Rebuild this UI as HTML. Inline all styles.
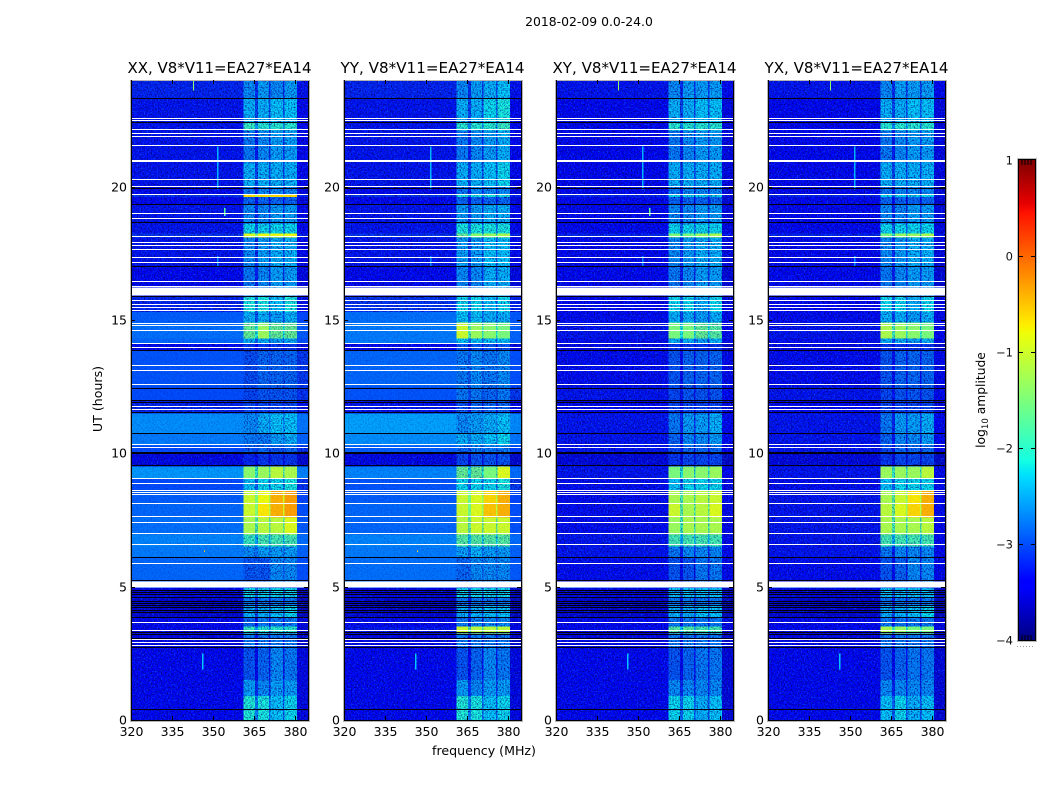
<!DOCTYPE html>
<html>
<head>
<meta charset="utf-8">
<title>2018-02-09 dynamic spectra</title>
<style>
html,body{margin:0;padding:0;background:#fff;}
svg{display:block;font-family:"DejaVu Sans","Liberation Sans",sans-serif;}
</style>
</head>
<body>
<svg id="chart" xmlns="http://www.w3.org/2000/svg" width="1050" height="800" viewBox="0 0 1050 800">
  <defs>
    <filter id="speckle-light" x="0" y="0" width="100%" height="100%" color-interpolation-filters="sRGB">
      <feTurbulence type="fractalNoise" baseFrequency="0.7" numOctaves="1" seed="3"/>
      <feColorMatrix type="matrix" values="0 0 0 0 0  0 0 0 0 0.42  0 0 0 0 1  2.2 0 0 0 -1.05"/>
    </filter>
    <filter id="speckle-dark" x="0" y="0" width="100%" height="100%" color-interpolation-filters="sRGB">
      <feTurbulence type="fractalNoise" baseFrequency="0.7" numOctaves="1" seed="8"/>
      <feColorMatrix type="matrix" values="0 0 0 0 0  0 0 0 0 0  0 0 0 0 0.5  0 2.8 0 0 -1.2"/>
    </filter>
  </defs>
  <text x="589" y="26" font-size="12.4" text-anchor="middle">2018-02-09 0.0-24.0</text>
  <text x="484" y="755" font-size="12.6" text-anchor="middle">frequency (MHz)</text>
  <text x="0" y="0" font-size="12.6" text-anchor="middle" transform="translate(102,399) rotate(-90)">UT (hours)</text>
  <text x="0" y="0" font-size="12.3" text-anchor="middle" transform="translate(985,400) rotate(-90)">log<tspan font-size="8.6" dy="3">10</tspan><tspan dy="-3"> amplitude</tspan></text>
  <g id="panels"></g>
  <g id="colorbar"></g>
</svg>
<script>
// Time segment boundaries (UT hours)
const hourEdges = [0,0.9,1.5,2.7,3.25,3.5,3.85,4.3,4.6,4.95,5.2,6.1,6.5,6.95,7.6,8.1,8.6,9.05,9.5,10,10.3,10.75,11.5,12,12.5,13.85,14.1,14.3,14.9,15.3,15.9,17,18.1,18.25,18.6,19.35,19.62,19.7,20,20.9,22.1,22.4,23.3,24];
// Frequency boundaries (MHz) : background, band 1, gap, band 2, gap, band 3, gap, band 4, background
const freqEdges = [320,361,365.2,366.3,370.3,371,375.4,376.1,380.5,384.6];
// log10 amplitude per time segment: [background, band1, band2, band3, band4]
const xxLevels = [
[-3.4,-2.05,-2.1,-2.3,-2.2],[-3.4,-2.5,-2.6,-2.5,-2.5],[-3.4,-2.9,-2.8,-2.6,-2.7],[-3.5,-2.7,-2.7,-2.7,-2.7],[-3.4,-1.9,-2,-2,-2],[-3.4,-2.8,-2.7,-2.7,-2.7],[-3.6,-2.4,-2.4,-2.3,-2.2],[-3.6,-2.7,-2.7,-2.7,-2.7],[-3.5,-2.2,-2.2,-2.2,-2.2],[-3,-3,-3,-3,-3],
[-2.85,-2.9,-2.9,-2.6,-2.6],[-2.75,-2.6,-2.5,-2.5,-2.5],[-2.7,-1.9,-1.8,-1.8,-1.8],[-2.8,-1.2,-1.1,-1.1,-0.9],[-2.85,-1,-0.7,-0.4,-0.3],[-2.9,-1,-0.8,-0.4,-0.3],[-3,-2.3,-2.2,-2.2,-2.1],[-2.6,-1.4,-1.3,-1.1,-1.2],[-3.5,-3.2,-3.1,-3.1,-3.1],[-3,-2.9,-2.8,-2.9,-2.8],
[-2.75,-2.7,-2.7,-2.5,-2.4],[-2.65,-2.6,-2.4,-2.3,-2.3],[-3.2,-3,-3,-3,-3],[-3,-3,-2.9,-2.9,-2.9],[-2.95,-2.95,-2.8,-2.8,-2.8],[-3.4,-3.1,-3.1,-3.1,-3.1],[-2.85,-2.4,-2.4,-2.5,-2.4],[-2.8,-1.6,-1.3,-1.6,-1.6],[-2.9,-2.4,-2.4,-2.5,-2.4],[-3.2,-2.1,-2.1,-2.3,-2.1],
[-3.4,-2.7,-2.6,-2.5,-2.5],[-3.3,-2.6,-2.5,-2.4,-2.4],[-3.1,-0.9,-0.8,-0.8,-0.8],[-3.3,-2.2,-2.2,-2.2,-2.2],[-3.3,-2.6,-2.6,-2.5,-2.5],[-3.4,-2.8,-2.8,-2.8,-2.8],[-3.1,-0.6,-0.6,-0.6,-0.6],[-3.4,-2.7,-2.6,-2.6,-2.6],[-3.3,-2.4,-2.4,-2.4,-2.4],[-3.3,-2.7,-2.6,-2.5,-2.5],
[-3.3,-1.9,-2,-2,-2],[-3.3,-2.4,-2.4,-2.3,-2.3],[-3.2,-2.6,-2.5,-2.6,-2.5]];
const yyLevels = [
[-3.4,-2.05,-2.1,-2.3,-2.2],[-3.4,-2.5,-2.6,-2.5,-2.5],[-3.4,-2.9,-2.8,-2.6,-2.7],[-3.5,-2.7,-2.7,-2.7,-2.7],[-3.3,-1,-1.1,-1.1,-1.1],[-3.4,-2.7,-2.6,-2.6,-2.6],[-3.6,-2.4,-2.4,-2.3,-2.3],[-3.6,-2.7,-2.7,-2.7,-2.7],[-3.5,-2.2,-2.2,-2.2,-2.2],[-3,-3,-3,-3,-3],
[-2.8,-2.8,-2.6,-2.6,-2.6],[-2.75,-2.5,-2.4,-2.5,-2.5],[-2.7,-1.7,-1.7,-1.7,-1.7],[-2.85,-1.1,-1,-1,-1],[-2.85,-1,-0.9,-0.5,-0.4],[-2.9,-1,-0.9,-0.6,-0.4],[-2.95,-2.2,-2.2,-2.2,-2.1],[-2.7,-1.6,-1.6,-1.5,-0.9],[-3.5,-3,-2.9,-2.9,-2.9],[-2.9,-2.8,-2.7,-2.7,-2.7],
[-2.65,-2.4,-2.4,-2.3,-2.2],[-2.55,-2.6,-2.5,-2.4,-2.3],[-3.3,-2.9,-2.8,-2.8,-2.8],[-2.95,-2.7,-2.7,-2.8,-2.7],[-2.85,-2.7,-2.6,-2.7,-2.6],[-3.4,-2.9,-2.9,-2.9,-2.9],[-2.75,-2.3,-2.3,-2.3,-2.3],[-2.75,-1,-1.3,-1.4,-1.5],[-2.8,-2.3,-2.3,-2.4,-2.4],[-3.1,-2.2,-2.2,-2.3,-2.2],
[-3.4,-2.6,-2.6,-2.4,-2.4],[-3.3,-2.5,-2.5,-2.3,-2.3],[-3.1,-1.6,-1.4,-1.3,-1.2],[-3.3,-2.1,-2.1,-2.1,-2.1],[-3.3,-2.5,-2.5,-2.4,-2.4],[-3.4,-2.8,-2.8,-2.8,-2.8],[-3.1,-2.1,-2.1,-2.1,-2.1],[-3.4,-2.7,-2.6,-2.6,-2.6],[-3.3,-2.4,-2.4,-2.3,-2.2],[-3.3,-2.7,-2.6,-2.5,-2.4],
[-3.3,-2,-2,-2,-1.9],[-3.3,-2.4,-2.4,-2.2,-2.1],[-3.2,-2.6,-2.5,-2.4,-2.3]];
const xyLevels = [
[-3.45,-2.2,-2.2,-2.4,-2.3],[-3.45,-2.6,-2.6,-2.6,-2.6],[-3.45,-2.9,-2.8,-2.7,-2.7],[-3.5,-2.7,-2.7,-2.7,-2.7],[-3.4,-1.7,-1.7,-1.8,-1.8],[-3.4,-2.7,-2.7,-2.7,-2.7],[-3.6,-2.4,-2.4,-2.3,-2.3],[-3.6,-2.7,-2.7,-2.7,-2.7],[-3.5,-2.3,-2.3,-2.3,-2.3],[-3,-3,-3,-3,-3],
[-3.35,-2.9,-2.9,-2.7,-2.7],[-3.3,-2.7,-2.6,-2.6,-2.6],[-3.3,-1.8,-1.8,-1.8,-1.8],[-3.35,-1.3,-1.2,-1.2,-1.2],[-3.35,-1,-1.2,-1.1,-0.9],[-3.35,-1.2,-1.2,-1.1,-1],[-3.35,-2.3,-2.2,-2.2,-2.2],[-3.3,-1.5,-1.4,-1.4,-1.3],[-3.55,-3.1,-3,-3,-3],[-3.3,-3,-2.8,-2.8,-2.8],
[-3.3,-2.8,-2.6,-2.6,-2.5],[-3.3,-2.7,-2.5,-2.5,-2.4],[-3.4,-3,-3,-3,-3],[-3.3,-3,-2.9,-2.9,-2.9],[-3.35,-2.9,-2.8,-2.8,-2.8],[-3.5,-3.1,-3.1,-3.1,-3.1],[-3.35,-2.4,-2.4,-2.5,-2.4],[-3.3,-1.5,-1.5,-1.6,-1.7],[-3.35,-2.4,-2.4,-2.5,-2.4],[-3.4,-2.2,-2.2,-2.4,-2.2],
[-3.45,-2.7,-2.6,-2.5,-2.5],[-3.4,-2.6,-2.5,-2.4,-2.4],[-3.2,-1.5,-1.5,-1.3,-1.2],[-3.4,-2.2,-2.2,-2.2,-2.2],[-3.4,-2.6,-2.6,-2.5,-2.5],[-3.45,-2.8,-2.8,-2.8,-2.8],[-3.2,-2.2,-2.2,-2.2,-2.2],[-3.45,-2.7,-2.6,-2.6,-2.6],[-3.4,-2.4,-2.4,-2.4,-2.4],[-3.4,-2.7,-2.6,-2.5,-2.5],
[-3.4,-2,-2,-2,-2],[-3.4,-2.4,-2.4,-2.3,-2.3],[-3.3,-2.6,-2.5,-2.5,-2.5]];
const yxLevels = [
[-3.45,-2.3,-2.2,-2.4,-2.3],[-3.45,-2.6,-2.6,-2.6,-2.6],[-3.45,-2.9,-2.8,-2.7,-2.7],[-3.5,-2.7,-2.7,-2.7,-2.7],[-3.4,-1.2,-1.3,-1.5,-1.5],[-3.4,-2.7,-2.7,-2.7,-2.7],[-3.6,-2.4,-2.4,-2.3,-2.2],[-3.6,-2.7,-2.7,-2.7,-2.7],[-3.5,-2.3,-2.3,-2.3,-2.3],[-3,-3,-3,-3,-3],
[-3.35,-2.9,-2.8,-2.6,-2.6],[-3.3,-2.7,-2.6,-2.6,-2.6],[-3.3,-1.8,-1.8,-1.8,-1.8],[-3.3,-1.2,-1.2,-1.2,-1.1],[-3.3,-1.1,-0.9,-0.6,-0.4],[-3.3,-1.2,-1,-0.7,-0.4],[-3.35,-2.3,-2.2,-2.2,-2.2],[-3.3,-1.3,-1.3,-1.3,-1.1],[-3.55,-3.1,-3,-3,-3],[-3.3,-3,-2.8,-2.8,-2.8],
[-3.3,-2.8,-2.6,-2.6,-2.5],[-3.3,-2.7,-2.5,-2.5,-2.4],[-3.4,-3,-3,-3,-3],[-3.3,-3,-2.9,-2.9,-2.9],[-3.35,-2.9,-2.8,-2.8,-2.8],[-3.5,-3.1,-3.1,-3.1,-3.1],[-3.35,-2.4,-2.4,-2.5,-2.4],[-3.3,-1.2,-1.3,-1.4,-1.5],[-3.35,-2.4,-2.4,-2.5,-2.4],[-3.4,-2.2,-2.2,-2.4,-2.2],
[-3.45,-2.7,-2.6,-2.5,-2.5],[-3.4,-2.6,-2.5,-2.4,-2.4],[-3.2,-1.5,-1.3,-1.3,-1.2],[-3.4,-2.2,-2.2,-2.2,-2.2],[-3.4,-2.6,-2.6,-2.5,-2.5],[-3.45,-2.8,-2.8,-2.8,-2.8],[-3.2,-2.2,-2.2,-2.2,-2.2],[-3.45,-2.7,-2.6,-2.6,-2.6],[-3.4,-2.4,-2.4,-2.4,-2.4],[-3.4,-2.7,-2.6,-2.5,-2.5],
[-3.4,-2,-2,-2,-2],[-3.4,-2.4,-2.4,-2.3,-2.3],[-3.3,-2.6,-2.5,-2.5,-2.5]];
// Flagged (blank) integrations, UT hours
const blankLines = [22.55,22.47,22.14,22.01,21.9,21.56,21,20.94,20.27,20,19.72,19.01,18.82,18.15,17.89,17.81,17.66,17.36,17.17,16.46,16.27,15.72,15.59,15.46,15.34,14.87,14.81,14.62,14.13,13.96,13.31,13.1,12.6,11.75,11.65,10.34,10.21,9.06,8.88,8.6,8.53,8.44,8.13,7.62,7.41,7,6.59,5.88,3.66,3.37,3.03,2.91,2.78];
const blankBlockStarts = [15.92,4.96];
const blankBlockEnds = [16.22,5.19];
// Zero-amplitude integrations, UT hours
const blackLines = [23.31,22.42,19.93,19.33,18.64,17.02,15.87,13.86,12.45,11.97,11.9,11.54,10.75,10.02,9.98,9.54,6.1,5.24,4.85,4.77,4.69,4.6,4.44,4.36,4.29,4.22,4.12,4.02,3.85,3.27,3.19,3.06,2.71,0.41];
// Narrow spectral features
const spurFreq = [351.4,351.4,346,342.6,346.6,354];
const spurStart = [19.9,17.0,1.9,23.6,6.3,18.9];
const spurEnd = [21.5,17.4,2.5,24,6.36,19.2];
const spurLevel = [-2.5,-2.7,-2.4,-1.4,-0.6,-1.7];
const spurPanels = [[0,1,2,3],[0,1,2,3],[0,1,2,3],[0,2,3],[0,1],[0,2]];
const panelTitles = ["XX, V8*V11=EA27*EA14","YY, V8*V11=EA27*EA14","XY, V8*V11=EA27*EA14","YX, V8*V11=EA27*EA14"];
const panelLevels = [xxLevels,yyLevels,xyLevels,yxLevels];
const freqTicks = [320,335,350,365,380];
const hourTicks = [0,5,10,15,20];
const colorTicks = [1,0,-1,-2,-3,-4];

const NS = "http://www.w3.org/2000/svg";
const panelLeft = [131,344,556,768], panelW = 177, plotTop = 80, plotBottom = 720;
const fMin = 320, fMax = 384.6, tMax = 24;
const cmin = -4, cmax = 1;
function xAxis(f,left){return left+(f-fMin)/(fMax-fMin)*panelW;}
function yAxis(t){return plotBottom-t/tMax*(plotBottom-plotTop);}
function ramp(p,pts){
  for(let i=1;i<pts.length;i++){
    if(p<=pts[i][0]){const a=pts[i-1],b=pts[i];return a[1]+(b[1]-a[1])*(p-a[0])/(b[0]-a[0]);}
  }
  return pts[pts.length-1][1];
}
function jet(v){
  const p=Math.max(0,Math.min(1,(v-cmin)/(cmax-cmin)));
  const r=ramp(p,[[0,0],[0.35,0],[0.66,1],[0.89,1],[1,0.5]]);
  const g=ramp(p,[[0,0],[0.125,0],[0.375,1],[0.64,1],[0.91,0],[1,0]]);
  const b=ramp(p,[[0,0.5],[0.11,1],[0.34,1],[0.65,0],[1,0]]);
  return "rgb("+Math.round(r*255)+","+Math.round(g*255)+","+Math.round(b*255)+")";
}
function mk(tag,attrs,parent){
  const el=document.createElementNS(NS,tag);
  for(const k in attrs){el.setAttribute(k,attrs[k]);}
  parent.appendChild(el);
  return el;
}
function rowColumns(row){
  const bg=row[0];
  const gap=(a,b)=>Math.max(bg,(a+b)/2-0.6);
  return [bg,row[1],gap(row[1],row[2]),row[2],gap(row[2],row[3]),row[3],gap(row[3],row[4]),row[4],bg-0.12];
}
function smoothing(v,ci){
  if(ci===0||ci===8){return v>-3.05 ? 0.7 : 0;}
  return v>-1.6 ? 0.9 : Math.max(0,(v+3)*0.35);
}
function drawCells(levels,left,g,overlay){
  levels.forEach((row,ri)=>{
    const cols=rowColumns(row);
    const yTop=yAxis(hourEdges[ri+1]), yBot=yAxis(hourEdges[ri]);
    cols.forEach((v,ci)=>{
      const op=overlay?smoothing(v,ci):1;
      if(op<=0){return;}
      const x0=xAxis(freqEdges[ci],left), x1=xAxis(freqEdges[ci+1],left);
      const cell=mk("rect",{x:x0,y:yTop,width:x1-x0,height:yBot-yTop,fill:jet(v),"fill-opacity":op,"shape-rendering":"crispEdges"},g);
      
      
    });
  });
}
const panelsG=document.getElementById("panels");
panelTitles.forEach((title,pi)=>{
  const left=panelLeft[pi], levels=panelLevels[pi];
  const g=mk("g",{},panelsG);
  
  
  drawCells(levels,left,g,false);
  const s1=mk("rect",{x:left,y:plotTop,width:panelW,height:plotBottom-plotTop,filter:"url(#speckle-light)"},g);
  
  
  const s2=mk("rect",{x:left,y:plotTop,width:panelW,height:plotBottom-plotTop,filter:"url(#speckle-dark)"},g);
  
  
  drawCells(levels,left,g,true);
  spurFreq.forEach((f,si)=>{
    if(!spurPanels[si].includes(pi)){return;}
    const yT=yAxis(spurEnd[si]), yB=yAxis(spurStart[si]);
    const spur=mk("rect",{x:xAxis(f,left),y:yT,width:1.3,height:Math.max(1,yB-yT),fill:jet(spurLevel[si]),"shape-rendering":"crispEdges"},g);
    
    
  });
  blackLines.forEach(t=>{
    const l=mk("rect",{x:left,y:Math.round(yAxis(t)-0.5),width:panelW,height:1,fill:"#000010","shape-rendering":"crispEdges"},g);
    
    
  });
  blankLines.forEach(t=>{
    const l=mk("rect",{x:left,y:Math.round(yAxis(t)-0.5),width:panelW,height:1,fill:"#fff","shape-rendering":"crispEdges"},g);
    
    
  });
  blankBlockStarts.forEach((t,bi)=>{
    const yT=yAxis(blankBlockEnds[bi]), yB=yAxis(t);
    const l=mk("rect",{x:left,y:yT,width:panelW,height:yB-yT,fill:"#fff","shape-rendering":"crispEdges"},g);
    
    
  });
  const frameOuter=mk("rect",{x:left-0.5,y:plotTop+0.5,width:panelW+2,height:plotBottom-plotTop+1,fill:"none",stroke:"#b4b4b4","stroke-width":1},g);
  
  
  const frame=mk("path",{d:"M"+(left+0.5)+" "+(plotTop+1)+"V"+(plotBottom+0.5)+"H"+(left+panelW+0.5)+"V"+(plotTop+1),fill:"none",stroke:"#000","stroke-width":1},g);
  
  
  const ttl=mk("text",{x:left+panelW/2,y:73,"font-size":15.5,"text-anchor":"middle",textLength:184,lengthAdjust:"spacingAndGlyphs"},g);
  ttl.textContent=title;
  
  
  freqTicks.forEach(f=>{
    const x=Math.round(xAxis(f,left))+0.5;
    const t1=mk("line",{x1:x,x2:x,y1:plotBottom,y2:plotBottom-4,stroke:"#000"},g);
    
    
    const t2=mk("line",{x1:x,x2:x,y1:plotTop,y2:plotTop+4,stroke:"#000"},g);
    
    
    const lb=mk("text",{x:x,y:736,"font-size":12.5,"text-anchor":"middle"},g);
    lb.textContent=String(f);
    
    
  });
  hourTicks.forEach(h=>{
    const y=Math.round(yAxis(h))+0.5;
    const t1=mk("line",{x1:left,x2:left+4,y1:y,y2:y,stroke:"#000"},g);
    
    
    const t2=mk("line",{x1:left+panelW-4,x2:left+panelW,y1:y,y2:y,stroke:"#000"},g);
    
    
    const lb=mk("text",{x:left-4,y:y+4,"font-size":12.5,"text-anchor":"end"},g);
    lb.textContent=String(h);
    
    
  });
});
// Colorbar
const cb=document.getElementById("colorbar");
const cbLeft=1019, cbW=16, cbTop=160, cbBottom=640;
function cbY(v){return cbBottom-(v-cmin)/(cmax-cmin)*(cbBottom-cbTop);}
const cbSteps=[];
for(let i=0;i<240;i++){cbSteps.push(i);}
cbSteps.forEach(i=>{
  const v0=cmin+(cmax-cmin)*i/240, v1=cmin+(cmax-cmin)*(i+1)/240;
  const r=mk("rect",{x:cbLeft,y:cbY(v1),width:cbW,height:cbY(v0)-cbY(v1)+0.5,fill:jet((v0+v1)/2),"shape-rendering":"crispEdges"},cb);
  
  
});
const cbFrame=mk("rect",{x:cbLeft-0.5,y:cbTop-0.5,width:cbW+1,height:cbBottom-cbTop+1,fill:"none",stroke:"#000","stroke-width":1},cb);


const cbOuter=mk("rect",{x:cbLeft-1.5,y:cbTop-1.5,width:cbW+3,height:cbBottom-cbTop+3,fill:"none",stroke:"#bbb","stroke-width":1},cb);


colorTicks.forEach(v=>{
  const y=Math.round(cbY(v))+0.5;
  const isEnd=(v===1||v===-4);
  if(!isEnd){
    const a=mk("line",{x1:cbLeft,x2:cbLeft+4,y1:y,y2:y,stroke:"#000"},cb);
    
    
    const b=mk("line",{x1:cbLeft+cbW-4,x2:cbLeft+cbW,y1:y,y2:y,stroke:"#000"},cb);
    
    
  }
  const lb=mk("text",{x:1013,y:y+4,"font-size":11.5,"text-anchor":"end",fill:"#111"},cb);
  lb.textContent=(v<0?"\u2212":"")+Math.abs(v);
  
  
});
const minorOffsets=[3,6,9,12];
minorOffsets.forEach(dx=>{
  const a=mk("line",{x1:cbLeft+dx,x2:cbLeft+dx,y1:cbTop,y2:cbTop+5,stroke:"#000"},cb);
  
  
  const b=mk("line",{x1:cbLeft+dx,x2:cbLeft+dx,y1:cbBottom,y2:cbBottom-5,stroke:"#000"},cb);
  
  
});
const dots=mk("line",{x1:1017,x2:1035,y1:646.5,y2:646.5,stroke:"#999","stroke-dasharray":"1 2"},cb);


</script>
</body>
</html>
